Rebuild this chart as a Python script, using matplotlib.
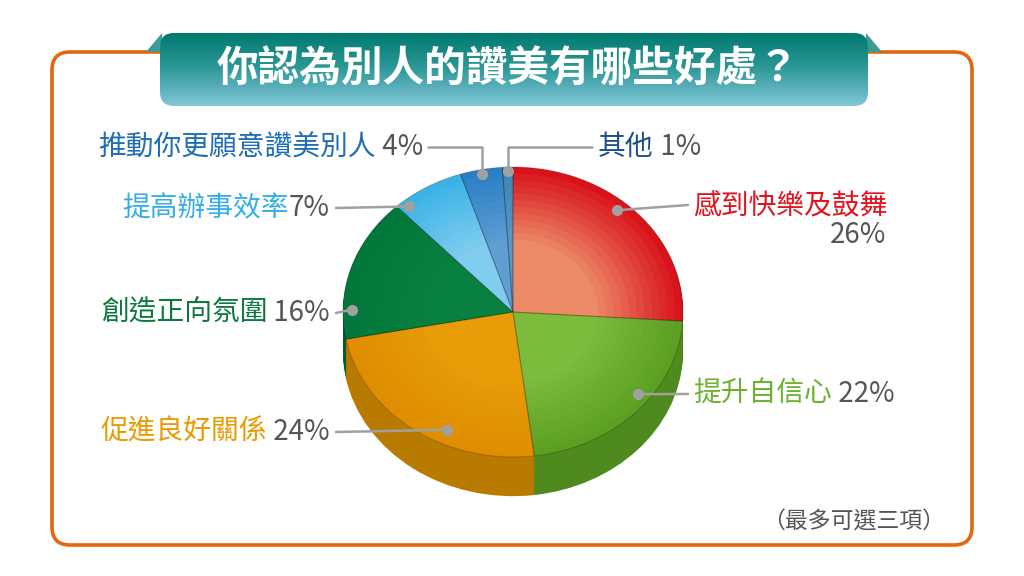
import numpy as np
import matplotlib
matplotlib.use('Agg')
import matplotlib.pyplot as plt
from matplotlib.patches import FancyBboxPatch, Polygon, ConnectionPatch
from matplotlib.colors import to_rgb

plt.rcParams['font.family'] = ['Noto Sans CJK TC', 'DejaVu Sans']

# data
labels = ['感到快樂及鼓舞', '提升自信心', '促進良好關係', '創造正向氛圍',
          '提高辦事效率', '推動你更願意讚美別人', '其他']
values = [26, 22, 24, 16, 7, 4, 1]
pct_text = ['26%', ' 22%', ' 24%', ' 16%', '7%', ' 4%', ' 1%']

title = '你認為別人的讚美有哪些好處？'
note = '（最多可選三項）'

# styles
label_colors = ['#e0141e', '#6db22c', '#e99a00', '#0c7a3e', '#36aee5', '#1f6db4', '#1d4f86']
edge_colors = ['#d8131b', '#5c9f22', '#de8e00', '#02773a', '#3bb2e6', '#2a7fc4', '#3d84b2']
inner_colors = ['#ec8a68', '#7cbb3c', '#e89c08', '#088040', '#80cdef', '#5f9dd3', '#5a98c0']
side_colors = ['#a8100f', '#4e8a1e', '#b97a00', '#015e2c', '#2d8fbf', '#1e62a0', '#2f6d95']

# label layout (pixel coords, y from top)
dot_angle = [49, -37.5, -115.5, 179, 130, 101, 91.8]
dot_r = [0.93, 0.93, 0.9, 0.95, 0.95, 0.97, 0.97]
text_pos = [(693, 205, 'left'), (693, 394, 'left'), (330, 432, 'right'), (330, 313, 'right'),
            (330, 208, 'right'), (98, 147, 'left'), (598, 147, 'left')]
line_end = [(688, 205), (688, 394), (336, 432), (336, 313), (336, 208), (428, 147), (592, 147)]
elbow = [False, False, False, False, False, True, True]

W, H = 1024, 576
fig = plt.figure(figsize=(W / 100, H / 100), dpi=100)
fig.patch.set_facecolor('white')

ax_bg = fig.add_axes([0, 0, 1, 1])
ax_bg.set_xlim(0, W)
ax_bg.set_ylim(H, 0)
ax_bg.axis('off')

# orange frame
frame = FancyBboxPatch((52, 52), 920, 493, boxstyle='round,pad=0,rounding_size=18',
                       facecolor='white', edgecolor='#e2670f', linewidth=2.6)
ax_bg.add_patch(frame)

# banner with gradient
for pts in ([(146, 52), (162, 33), (162, 52)], [(866, 33), (882, 52), (866, 52)]):
    ax_bg.add_patch(Polygon(pts, closed=True, facecolor='#3f9a96', edgecolor='none'))
banner = FancyBboxPatch((160, 33), 708, 73, boxstyle='round,pad=0,rounding_size=14',
                        facecolor='none', edgecolor='none')
ax_bg.add_patch(banner)
top_c = np.array(to_rgb('#007a6f'))
mid_c = np.array(to_rgb('#2a9693'))
bot_c = np.array(to_rgb('#82c6da'))
t = np.linspace(0, 1, 120)[:, None]
grad = np.where(t < 0.45, top_c + (mid_c - top_c) * (t / 0.45),
                mid_c + (bot_c - mid_c) * ((t - 0.45) / 0.55))
img = ax_bg.imshow(grad[:, None, :], extent=(160, 868, 106, 33), aspect='auto',
                   origin='upper', zorder=2)
img.set_clip_path(banner)
ax_bg.set_xlim(0, W)
ax_bg.set_ylim(H, 0)
ax_bg.text(508, 70, title, ha='center', va='center', color='white',
           fontsize=30, fontweight='bold', zorder=3)

# pie axes: rx 170 px, ry 145 px, centre (513, 312)
cx, cy, rx, ry = 513, 312, 170, 145
x0, x1, y0, y1 = -1.15, 1.15, -1.45, 1.15
left = cx + x0 * rx
top = cy - y1 * ry
w = (x1 - x0) * rx
h = (y1 - y0) * ry
ax_pie = fig.add_axes([left / W, (H - top - h) / H, w / W, h / H])
ax_pie.patch.set_alpha(0)

depth = 0.27
for k in np.linspace(depth, 0.005, 30):
    ax_pie.pie(values, colors=side_colors, startangle=90, counterclock=False,
               center=(0, -k), wedgeprops=dict(linewidth=0))

for j, r in enumerate(np.linspace(1.0, 0.5, 12)):
    f = j / 11
    cols = [tuple(np.array(to_rgb(e)) * (1 - f) + np.array(to_rgb(i)) * f)
            for e, i in zip(edge_colors, inner_colors)]
    ax_pie.pie(values, colors=cols, startangle=90, counterclock=False, radius=r,
               wedgeprops=dict(linewidth=0))
ax_pie.pie(values, colors=['none'] * len(values), startangle=90, counterclock=False,
           wedgeprops=dict(linewidth=0.8, edgecolor=(0, 0, 0, 0.18)))

ax_pie.set_aspect('auto')
ax_pie.set_xlim(x0, x1)
ax_pie.set_ylim(y0, y1)
ax_pie.axis('off')

# labels and leader lines
fs = 20
for i, lab in enumerate(labels):
    a = np.radians(dot_angle[i])
    dx, dy = dot_r[i] * np.cos(a), dot_r[i] * np.sin(a)
    ax_pie.plot([dx], [dy], 'o', color='#a0a0a0', ms=7, zorder=10, clip_on=False)
    lx, ly = line_end[i]
    style = 'angle,angleA=0,angleB=90,rad=0' if elbow[i] else 'arc3'
    con = ConnectionPatch(xyA=(lx, ly), coordsA=ax_bg.transData, xyB=(dx, dy),
                          coordsB=ax_pie.transData, color='#a0a0a0', lw=1.8,
                          connectionstyle=style)
    fig.add_artist(con)

    x, y, ha = text_pos[i]
    if i == 0:
        ax_bg.text(x, y, lab, ha='left', va='center', fontsize=fs, color=label_colors[i])
        ax_bg.text(886, y + 30, pct_text[i], ha='right', va='center', fontsize=fs, color='#555555')
    elif ha == 'left':
        tl = ax_bg.text(x, y, lab, ha='left', va='center', fontsize=fs, color=label_colors[i])
        ax_bg.annotate(pct_text[i], xy=(1, 0.5), xycoords=tl, ha='left', va='center',
                       fontsize=fs, color='#555555')
    else:
        tp = ax_bg.text(x, y, pct_text[i], ha='right', va='center', fontsize=fs, color='#555555')
        ax_bg.annotate(lab, xy=(0, 0.5), xycoords=tp, ha='right', va='center',
                       fontsize=fs, color=label_colors[i])

ax_bg.text(945, 522, note, ha='right', va='center', fontsize=16.5, color='#555555')

fig.savefig('out.png', dpi=100)
